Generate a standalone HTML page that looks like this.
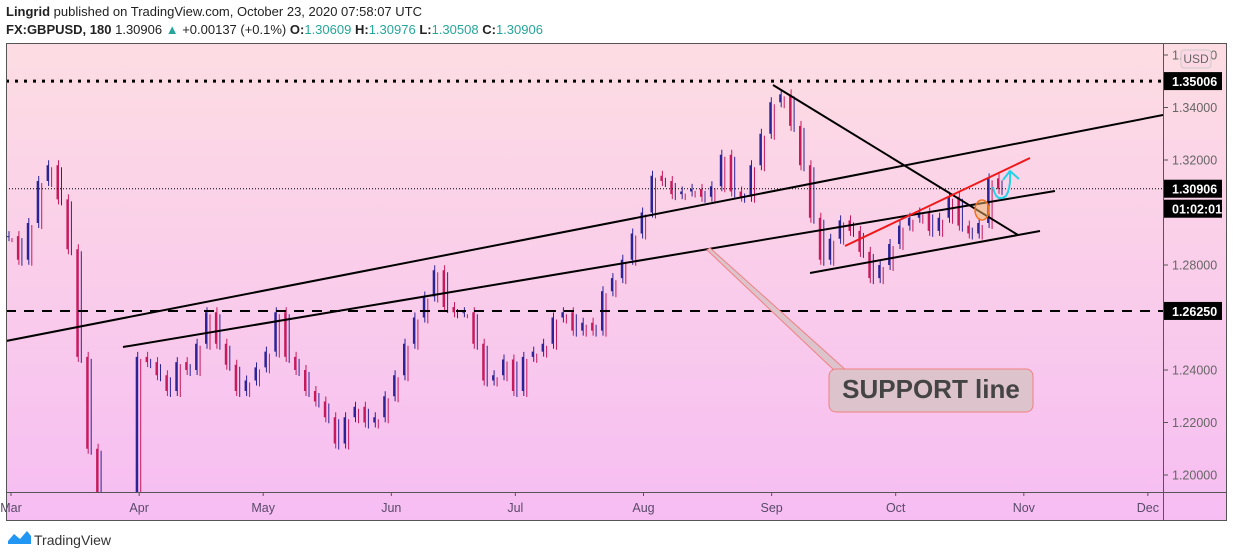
<!DOCTYPE html>
<html><head><meta charset="utf-8">
<style>
html,body{margin:0;padding:0;background:#fff;width:1234px;height:558px;overflow:hidden;font-family:"Liberation Sans",sans-serif;position:relative}
#hdr1{position:absolute;left:6px;top:4px;font-size:13px;color:#222;white-space:nowrap}
#hdr2{position:absolute;left:6px;top:22px;font-size:13px;color:#222;white-space:nowrap}
.g{color:#26a69a}
svg{position:absolute;left:0;top:0;display:block}
</style></head><body>
<div id="hdr1"><b>Lingrid</b> published on TradingView.com, October 23, 2020 07:58:07 UTC</div>
<div id="hdr2"><b>FX:GBPUSD, 180</b> 1.30906 <span class="g">▲</span> +0.00137 (+0.1%) <b>O:</b><span class="g">1.30609</span> <b>H:</b><span class="g">1.30976</span> <b>L:</b><span class="g">1.30508</span> <b>C:</b><span class="g">1.30906</span></div>
<svg id="chart" width="1234" height="558">
<defs>
<linearGradient id="bg" x1="0" y1="0" x2="0" y2="1">
<stop offset="0" stop-color="#fddde3"/><stop offset="1" stop-color="#f6bdf2"/>
</linearGradient>
<clipPath id="plot"><rect x="7" y="44" width="1156" height="448"/></clipPath>
</defs>
<rect x="6.5" y="43.5" width="1220" height="477" fill="url(#bg)" stroke="#555"/>
<line x1="1163.5" y1="43" x2="1163.5" y2="521" stroke="#555"/>
<line x1="6" y1="492.5" x2="1227" y2="492.5" stroke="#555"/>
<g id="bars" clip-path="url(#plot)"></g>
<g id="draw" clip-path="url(#plot)"></g>
<g id="axis"></g>
<g>
<path d="M8 541 L14 534 L20 539 L27 531 L31 536 L31 544 L8 544 Z" fill="#2196f3"/>
<text x="34" y="545" font-size="14" fill="#333">TradingView</text>
</g>
</svg>
<script>
const prices=[1.291,1.282,1.296,1.312,1.318,1.305,1.286,1.245,1.210,1.175,1.150,1.165,1.190,1.245,1.243,1.238,1.232,1.243,1.240,1.250,
1.262,1.250,1.242,1.232,1.236,1.241,1.247,1.262,1.245,1.240,1.232,1.228,1.222,1.212,1.222,1.226,1.220,1.222,1.230,1.238,
1.250,1.260,1.268,1.278,1.264,1.262,1.262,1.250,1.236,1.238,1.244,1.232,1.245,1.247,1.250,1.260,1.262,1.255,1.258,1.255,
1.270,1.275,1.282,1.292,1.300,1.314,1.312,1.307,1.308,1.309,1.306,1.310,1.322,1.308,1.306,1.318,1.330,1.342,1.345,1.333,
1.318,1.298,1.282,1.290,1.297,1.293,1.285,1.275,1.280,1.288,1.295,1.298,1.300,1.293,1.298,1.306,1.295,1.292,1.296,1.313,1.309];
const tickPrices=[1.36,1.34,1.32,1.28,1.24,1.22,1.20];
const tickLabels=["1.36000","1.34000","1.32000","1.28000","1.24000","1.22000","1.20000"];
const months=["Mar","Apr","May","Jun","Jul","Aug","Sep","Oct","Nov","Dec"];
const monthDays=[0,31,61,92,122,153,184,214,245,275];
const NS="http://www.w3.org/2000/svg";
function y(p){return 160+(1.32-p)*2625;}
function xi(i){return 8+i*9.9;}
function xd(d){return 11+d*4.134;}
function mk(tag,attrs,parent){const e=document.createElementNS(NS,tag);for(const k in attrs)e.setAttribute(k,attrs[k]);document.getElementById(parent).appendChild(e);return e;}
for(let i=0;i<prices.length;i++){
  const o=i?prices[i-1]:prices[0], c=prices[i];
  const up=c>=o, col=up?"#2b2396":"#c61a5c";
  const top=y(Math.max(o,c)), bot=y(Math.min(o,c));
  const w=mk("line",{x1:xi(i)+1,x2:xi(i)+1,y1:top-5,y2:bot+5,stroke:col,"stroke-width":1},"bars");
  
  
  const b=mk("rect",{x:xi(i)-1,y:top,width:2,height:Math.max(1,bot-top),fill:col},"bars");
  
  
  const b2=mk("line",{x1:xi(i)+4,x2:xi(i)+4,y1:top+2,y2:bot+6,stroke:up?"#c61a5c":"#2b2396","stroke-width":1},"bars");
  
  
}
function ln(x1,y1,x2,y2,st,w,da,name){const e=mk("line",{x1,y1,x2,y2,stroke:st,"stroke-width":w},"draw");if(da)e.setAttribute("stroke-dasharray",da);return e;}
ln(6,y(1.35006),1163,y(1.35006),"#000",3,"3 6","resistance-dotted-line");
ln(6,y(1.2625),1163,y(1.2625),"#000",2,"10 8","support-dashed-line");
ln(6,y(1.30906),1163,y(1.30906),"#000",1,"1 2","current-price-line");
ln(6,341,1163,115,"#000",2,null,"upper-trend-line");
ln(123,347,1055,191,"#000",2,null,"lower-trend-line");
ln(773,85,1018,235,"#000",2,null,"descending-trend-line");
ln(810,273,1040,231,"#000",2,null,"channel-bottom-line");
ln(845,246,1030,158,"#f01818",2,null,"red-channel-line");
let p=mk("path",{d:"M993 187 Q996 203 1006 196 Q1011 188 1010 172 M1003 180 L1010 171 L1019 179",fill:"none",stroke:"#22d3e8","stroke-width":2},"draw");

let c=mk("ellipse",{cx:982,cy:210,rx:7,ry:10,fill:"rgba(240,180,100,0.5)",stroke:"#f07020","stroke-width":1.5},"draw");

let cp=mk("path",{d:"M707 250 L836 372 L848 372 L710 248 Z",fill:"#dcc3cc",stroke:"#f08080","stroke-width":1},"draw");

let cb=mk("rect",{x:829,y:369,width:204,height:43,rx:7,fill:"#dcc3cc",stroke:"#f08080","stroke-width":1},"draw");

let ct=mk("text",{x:931,y:398,"text-anchor":"middle","font-size":"26","font-weight":"bold",fill:"#444","font-family":"Liberation Sans, sans-serif"},"draw");
ct.textContent="SUPPORT line";

for(let i=0;i<tickPrices.length;i++){
  const yy=y(tickPrices[i]);
  const t=mk("line",{x1:1164,x2:1168,y1:yy,y2:yy,stroke:"#555"},"axis");
  
  const l=mk("text",{x:1172,y:yy+4.5,"font-size":"12.5",fill:"#666"},"axis");
  l.textContent=tickLabels[i];
  
}
for(let i=0;i<months.length;i++){
  const xx=xd(monthDays[i]);
  const t=mk("line",{x1:xx,x2:xx,y1:492,y2:496,stroke:"#555"},"axis");
  
  const l=mk("text",{x:xx,y:512,"text-anchor":"middle","font-size":"12.5",fill:"#5a4a6a"},"axis");
  l.textContent=months[i];
  
}
const usd=mk("rect",{x:1181,y:50,width:30,height:18,rx:3,fill:"#fbd8e4",stroke:"#ccc"},"axis");

const ut=mk("text",{x:1196,y:63,"text-anchor":"middle","font-size":"12",fill:"#666"},"axis");
ut.textContent="USD";

const tags=[[y(1.35006),"1.35006","price-tag-resistance"],[y(1.30906),"1.30906","price-tag-current"],[y(1.30906)+20,"01:02:01","bar-countdown"],[y(1.2625),"1.26250","price-tag-support"]];
for(const t of tags){
  const r=mk("rect",{x:1164,y:t[0]-9,width:58,height:18,fill:"#000"},"axis");
  
  const tx=mk("text",{x:1172,y:t[0]+5,"font-size":"12.5","font-weight":"bold",fill:"#fff"},"axis");
  tx.textContent=t[1];
  
}
</script>
</body></html>
